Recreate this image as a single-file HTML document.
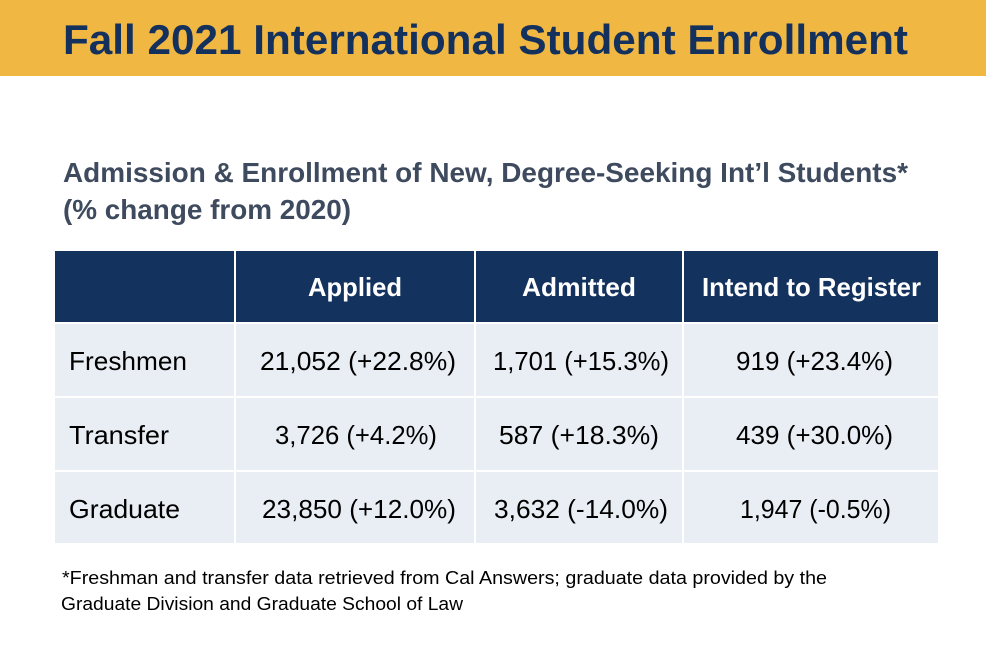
<!DOCTYPE html>
<html><head><meta charset="utf-8"><style>
html,body{margin:0;padding:0;background:#fff;width:986px;height:646px;overflow:hidden}
svg{display:block}
text{font-family:"Liberation Sans",sans-serif}
</style></head><body>
<svg width="986" height="646" viewBox="0 0 986 646" xmlns="http://www.w3.org/2000/svg">
<rect x="0" y="0" width="986" height="76" fill="#F1B743"/>
<text x="63" y="54" font-size="42" font-weight="bold" fill="#13315C" textLength="845" lengthAdjust="spacingAndGlyphs">Fall 2021 International Student Enrollment</text>
<text x="63" y="182" font-size="28" font-weight="bold" fill="#3E4A5E" textLength="845" lengthAdjust="spacingAndGlyphs">Admission &amp; Enrollment of New, Degree-Seeking Int’l Students*</text>
<text x="63" y="219" font-size="28" font-weight="bold" fill="#3E4A5E" textLength="288" lengthAdjust="spacingAndGlyphs">(% change from 2020)</text>
<g fill="#13325E">
<rect x="55" y="251" width="179" height="71"/>
<rect x="236" y="251" width="238" height="71"/>
<rect x="476" y="251" width="206" height="71"/>
<rect x="684" y="251" width="254" height="71"/>
</g>
<g fill="#E9EEF5">
<rect x="55" y="324" width="179" height="72"/><rect x="236" y="324" width="238" height="72"/><rect x="476" y="324" width="206" height="72"/><rect x="684" y="324" width="254" height="72"/>
<rect x="55" y="398" width="179" height="72"/><rect x="236" y="398" width="238" height="72"/><rect x="476" y="398" width="206" height="72"/><rect x="684" y="398" width="254" height="72"/>
<rect x="55" y="472" width="179" height="71"/><rect x="236" y="472" width="238" height="71"/><rect x="476" y="472" width="206" height="71"/><rect x="684" y="472" width="254" height="71"/>
</g>
<g font-size="26" font-weight="bold" fill="#fff">
<text x="308" y="296" textLength="94" lengthAdjust="spacingAndGlyphs">Applied</text>
<text x="522" y="296" textLength="114" lengthAdjust="spacingAndGlyphs">Admitted</text>
<text x="702" y="296" textLength="219" lengthAdjust="spacingAndGlyphs">Intend to Register</text>
</g>
<g font-size="26" fill="#000">
<text x="69" y="370" textLength="118" lengthAdjust="spacingAndGlyphs">Freshmen</text>
<text x="260" y="370" textLength="196" lengthAdjust="spacingAndGlyphs">21,052 (+22.8%)</text>
<text x="493" y="370" textLength="176" lengthAdjust="spacingAndGlyphs">1,701 (+15.3%)</text>
<text x="736" y="370" textLength="157" lengthAdjust="spacingAndGlyphs">919 (+23.4%)</text>
<text x="69" y="444" textLength="100" lengthAdjust="spacingAndGlyphs">Transfer</text>
<text x="275" y="444" textLength="162" lengthAdjust="spacingAndGlyphs">3,726 (+4.2%)</text>
<text x="499" y="444" textLength="160" lengthAdjust="spacingAndGlyphs">587 (+18.3%)</text>
<text x="736" y="444" textLength="157" lengthAdjust="spacingAndGlyphs">439 (+30.0%)</text>
<text x="69" y="518" textLength="111" lengthAdjust="spacingAndGlyphs">Graduate</text>
<text x="262" y="518" textLength="194" lengthAdjust="spacingAndGlyphs">23,850 (+12.0%)</text>
<text x="494" y="518" textLength="174" lengthAdjust="spacingAndGlyphs">3,632 (-14.0%)</text>
<text x="740" y="518" textLength="151" lengthAdjust="spacingAndGlyphs">1,947 (-0.5%)</text>
</g>
<g font-size="18" fill="#000">
<text x="62" y="584" textLength="765" lengthAdjust="spacingAndGlyphs">*Freshman and transfer data retrieved from Cal Answers; graduate data provided by the</text>
<text x="61" y="610" textLength="402" lengthAdjust="spacingAndGlyphs">Graduate Division and Graduate School of Law</text>
</g>
</svg>
</body></html>
